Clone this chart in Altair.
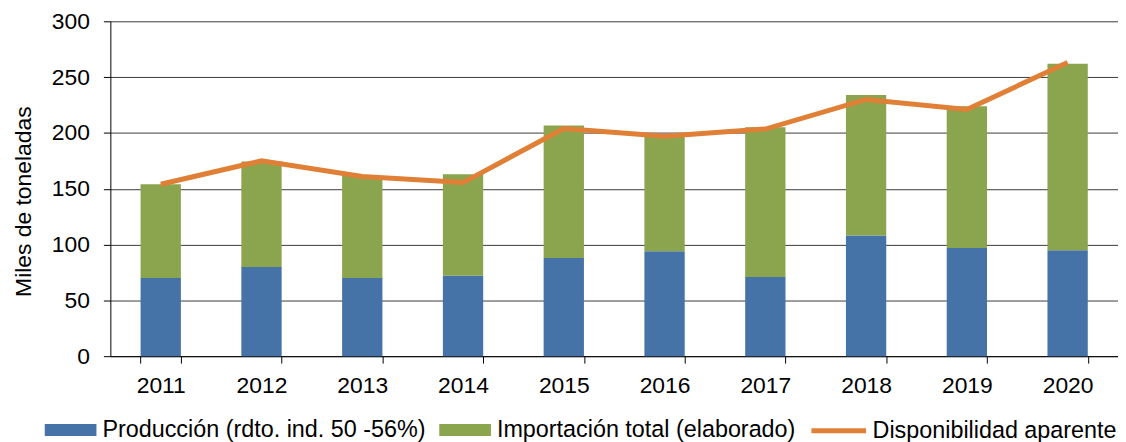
import altair as alt
import pandas as pd

years = ["2011", "2012", "2013", "2014", "2015", "2016", "2017", "2018", "2019", "2020"]
produccion = [70, 80, 70, 72, 88, 94, 71, 108, 97, 95]
importacion = [84, 94.5, 91.5, 91, 118.6, 103.7, 134, 126, 127, 167]
disponibilidad = [154, 175, 161, 155.5, 204, 197, 203.5, 230, 221, 263]

s_prod = "Producción (rdto. ind. 50 -56%)"
s_imp = "Importación total (elaborado)"
s_disp = "Disponibilidad aparente"

c_blue = "#4573A7"
c_green = "#8AA54D"
c_orange = "#E07F36"

FONT = "Liberation Sans"
FS = 23
LFS = 23.5

bars_df = pd.DataFrame(
    {
        "anio": years * 2,
        "serie": [s_prod] * len(years) + [s_imp] * len(years),
        "valor": produccion + importacion,
        "orden": [0] * len(years) + [1] * len(years),
    }
)
line_df = pd.DataFrame({"anio": years, "valor": disponibilidad, "serie": [s_disp] * len(years)})

x_scale = alt.Scale(paddingInner=0.6, paddingOuter=0.3)
y_scale = alt.Scale(domain=[0, 300], nice=False)

rect_path = "M-1,-0.23H1V0.23H-1Z"

x_axis = alt.Axis(
    title=None,
    labelAngle=0,
    labelFontSize=FS,
    labelFont=FONT,
    labelColor="#000000",
    labelPadding=12,
    tickBand="extent",
    tickSize=7,
    tickColor="#000000",
    domainColor="#000000",
    grid=False,
)
y_axis = alt.Axis(
    title="Miles de toneladas",
    titleFontSize=FS,
    titleFont=FONT,
    titleFontWeight="normal",
    titleColor="#000000",
    titleY=181,
    titlePadding=16,
    values=[0, 50, 100, 150, 200, 250, 300],
    labelFontSize=FS,
    labelFont=FONT,
    labelColor="#000000",
    labelPadding=14,
    tickSize=7,
    tickColor="#000000",
    domainColor="#000000",
    grid=True,
    gridColor="#3a3a3a",
    gridWidth=1,
)

legend_common = dict(
    orient="none",
    direction="horizontal",
    title=None,
    labelFontSize=LFS,
    labelFont=FONT,
    labelColor="#000000",
    columnPadding=13,
    labelLimit=0,
)

bars = (
    alt.Chart(bars_df)
    .mark_bar()
    .encode(
        x=alt.X("anio:N", scale=x_scale, axis=x_axis, sort=years),
        y=alt.Y("valor:Q", scale=y_scale, axis=y_axis, stack="zero"),
        color=alt.Color(
            "serie:N",
            scale=alt.Scale(domain=[s_prod, s_imp], range=[c_blue, c_green]),
            legend=alt.Legend(
                legendX=-66,
                legendY=385,
                symbolType=rect_path,
                symbolSize=2704,
                symbolStrokeWidth=0,
                labelOffset=6,
                **legend_common,
            ),
        ),
        order=alt.Order("orden:Q"),
    )
)

line = (
    alt.Chart(line_df)
    .mark_line(strokeWidth=5)
    .encode(
        x=alt.X("anio:N", scale=x_scale, sort=years),
        y=alt.Y("valor:Q", scale=y_scale),
        stroke=alt.Stroke(
            "serie:N",
            scale=alt.Scale(domain=[s_disp], range=[c_orange]),
            legend=alt.Legend(
                legendX=703,
                legendY=382,
                symbolType="stroke",
                symbolSize=3025,
                symbolStrokeWidth=5,
                labelOffset=4,
                **legend_common,
            ),
        ),
    )
)

chart = (
    alt.layer(bars, line)
    .resolve_legend(color="independent", stroke="independent")
    .properties(
        width=1014,
        height=337,
        autosize=alt.AutoSizeParams(type="none"),
        padding={"left": 103, "top": 12, "right": 0, "bottom": 88},
        background="#ffffff",
    )
    .configure_view(stroke=None)
)

chart.save("out.html", embed_options={"renderer": "svg", "actions": False})
